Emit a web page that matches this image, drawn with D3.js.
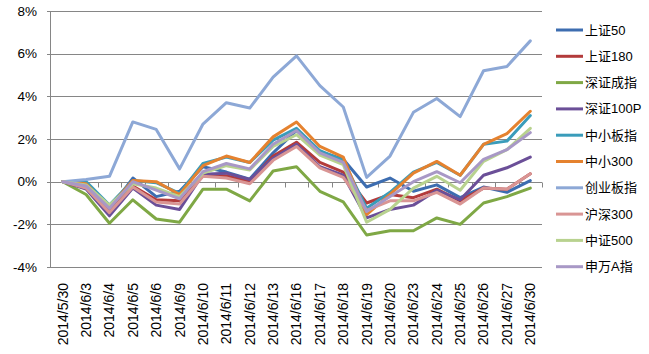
<!DOCTYPE html>
<html>
<head>
<meta charset="utf-8">
<title>指数涨跌幅</title>
<style>
  body { margin: 0; background: #fff; }
  svg { display: block; }
  text { font-family: "Liberation Sans", Arial, "Noto Sans CJK SC", sans-serif; fill: #000; }
</style>
</head>
<body>
<script src="https://cdn.jsdelivr.net/npm/d3@7/dist/d3.min.js"></script>
<script>

const dates = ["2014/5/30","2014/6/3","2014/6/4","2014/6/5","2014/6/6","2014/6/9","2014/6/10",
  "2014/6/11","2014/6/12","2014/6/13","2014/6/16","2014/6/17","2014/6/18","2014/6/19",
  "2014/6/20","2014/6/23","2014/6/24","2014/6/25","2014/6/26","2014/6/27","2014/6/30"];

const names = ["上证50","上证180","深证成指","深证100P","中小板指","中小300","创业板指","沪深300","中证500","申万A指"];

// returns in percent
const sz50   = [0,-0.2,-1.3,0.17,-0.7,-0.45,0.7,0.45,0.12,1.35,2.4,1.4,1.05,-0.25,0.17,-0.45,-0.15,-0.75,-0.25,-0.5,0.05];
const sz180  = [0,-0.3,-1.4,-0.2,-0.85,-0.9,0.28,0.28,0.0,1.2,1.85,0.9,0.45,-1.0,-0.6,-0.75,-0.35,-0.9,-0.3,-0.35,0.37];
const szcz   = [0,-0.6,-1.95,-0.85,-1.75,-1.9,-0.35,-0.35,-0.9,0.5,0.7,-0.45,-0.95,-2.5,-2.3,-2.3,-1.7,-2.0,-1.0,-0.7,-0.3];
const sz100p = [0,-0.35,-1.6,-0.3,-1.1,-1.3,0.35,0.4,0.1,1.1,1.75,0.7,0.3,-1.7,-1.3,-1.1,-0.4,-0.85,0.3,0.65,1.15];
const zxb    = [0,0.0,-1.1,0.05,-0.05,-0.55,0.85,1.15,0.9,1.95,2.5,1.45,1.0,-1.25,-0.5,0.45,0.9,0.3,1.75,1.9,3.1];
const zx300  = [0,-0.1,-1.2,0.05,0.0,-0.6,0.75,1.2,0.9,2.1,2.8,1.65,1.15,-1.55,-0.6,0.4,0.95,0.3,1.75,2.25,3.3];
const cyb    = [0,0.1,0.25,2.8,2.45,0.6,2.7,3.7,3.45,4.9,5.9,4.5,3.5,0.2,1.2,3.25,3.9,3.05,5.2,5.4,6.6];
const hs300  = [0,-0.3,-1.45,-0.25,-0.95,-1.05,0.25,0.17,-0.1,1.0,1.65,0.65,0.2,-1.35,-0.9,-0.9,-0.5,-1.05,-0.3,-0.35,0.37];
const zz500  = [0,-0.15,-1.1,-0.1,-0.3,-0.7,0.4,0.75,0.55,1.65,2.2,1.25,0.8,-1.9,-1.3,-0.3,0.25,-0.4,0.95,1.5,2.5];
const swa    = [0,-0.2,-1.25,0.0,-0.4,-0.8,0.47,0.85,0.6,1.75,2.4,1.35,0.9,-1.4,-0.7,0.0,0.47,-0.05,1.05,1.5,2.3];

const yTicks = [-4,-2,0,2,4,6,8];

const colors = ["#3D6DB0","#B33B3B","#7FA845","#6B4F98","#3A9CBA","#E5822F",
  "#8DA8D6","#D99594","#B8D28F","#A898C6"];

const series = [sz50, sz180, szcz, sz100p, zxb, zx300, cyb, hs300, zz500, swa]
  .map((vals, i) => ({ name: names[i], color: colors[i], values: vals }));

const width = 649, height = 354;
const plot = { left: 51, right: 542, top: 11, bottom: 267 };

const svg = d3.select("body").append("svg")
  .attr("width", width)
  .attr("height", height);

const x = d3.scaleBand()
  .domain(dates)
  .range([plot.left, plot.right])
  .padding(0);

const y = d3.scaleLinear()
  .domain([-4, 8])
  .range([plot.bottom, plot.top]);

// gridlines
svg.append("g")
  .selectAll("line")
  .data(yTicks)
  .enter().append("line")
  .attr("x1", plot.left - 4)
  .attr("x2", plot.right)
  .attr("y1", d => Math.round(y(d)) + 0.5)
  .attr("y2", d => Math.round(y(d)) + 0.5)
  .attr("stroke", "#868686")
  .attr("stroke-width", 1);

// y axis line
svg.append("line")
  .attr("x1", plot.left - 0.5).attr("x2", plot.left - 0.5)
  .attr("y1", plot.top).attr("y2", plot.bottom + 1)
  .attr("stroke", "#868686");

// y labels
svg.append("g")
  .selectAll("text")
  .data(yTicks)
  .enter().append("text")
  .attr("x", 37)
  .attr("y", d => y(d))
  .attr("dy", "0.35em")
  .attr("text-anchor", "end")
  .style("font-size", "13.5px")
  .text(d => d + "%");

// x axis at 0 with ticks at category boundaries
const y0 = Math.round(y(0)) + 0.5;
svg.append("g")
  .selectAll("line")
  .data(dates.slice(1).concat(["end"]))
  .enter().append("line")
  .attr("x1", (d, i) => Math.round(plot.left + x.bandwidth() * (i + 1)) + 0.5)
  .attr("x2", (d, i) => Math.round(plot.left + x.bandwidth() * (i + 1)) + 0.5)
  .attr("y1", y0)
  .attr("y2", y0 + 5)
  .attr("stroke", "#868686");

// x labels (rotated)
svg.append("g")
  .selectAll("text")
  .data(dates)
  .enter().append("text")
  .attr("transform", d => "translate(" + (x(d) + x.bandwidth() / 2) + ",283) rotate(-90)")
  .attr("dy", "0.35em")
  .attr("text-anchor", "end")
  .style("font-size", "14px")
  .text(d => d);

// lines
const line = d3.line()
  .x((d, i) => x(dates[i]) + x.bandwidth() / 2)
  .y(d => y(d));

svg.append("g")
  .selectAll("path")
  .data(series)
  .enter().append("path")
  .attr("d", d => line(d.values))
  .attr("fill", "none")
  .attr("stroke", d => d.color)
  .attr("stroke-width", 3)
  .attr("stroke-linejoin", "round")
  .attr("stroke-linecap", "round");

// legend
const legend = svg.append("g")
  .selectAll("g")
  .data(series)
  .enter().append("g")
  .attr("transform", (d, i) => "translate(556," + (30 + i * 26.3) + ")");

legend.append("line")
  .attr("x1", 0).attr("x2", 27)
  .attr("stroke", d => d.color)
  .attr("stroke-width", 3);

legend.append("text")
  .attr("x", 29)
  .attr("dy", "0.35em")
  .style("font-size", "13px")
  .text(d => d.name);

</script>
</body>
</html>
